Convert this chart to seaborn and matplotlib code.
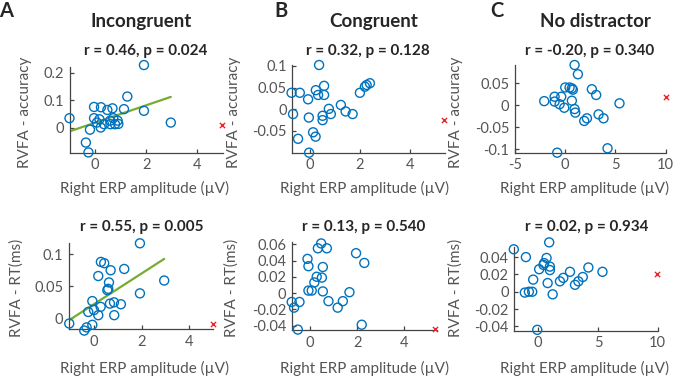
import numpy as np
import pandas as pd
import matplotlib
matplotlib.use('Agg')
import matplotlib.pyplot as plt
import seaborn as sns

# ---- data ----
# Panel A (Incongruent)
a_acc_x = [1.91, 1.26, -1.0, -0.04, 0.23, 0.48, 0.68, 1.13, 1.91, 2.96, -0.04, -0.2,
           -0.36, -0.26, 0.22, 0.35, 0.59, 0.71, 0.78, 0.91, 0.88, 0.6, 0.07, 0.17]
a_acc_y = [0.228, 0.113, 0.034, 0.075, 0.074, 0.064, 0.07, 0.067, 0.061, 0.018, 0.034, -0.008,
           -0.055, -0.091, 0.0, 0.012, 0.025, 0.034, 0.012, 0.013, 0.025, 0.012, 0.018, 0.03]
a_rt_x = [1.93, 0.29, 0.43, 0.70, 1.27, 0.18, 0.63, 0.56, 0.6, 2.95, 1.93, -0.07,
          -0.24, 0.0, 0.28, 0.18, 0.67, 0.84, 1.13, 0.85, -1.04, -0.41, -0.31, -0.07]
a_rt_y = [0.117, 0.088, 0.086, 0.075, 0.077, 0.066, 0.056, 0.044, 0.046, 0.059, 0.039, 0.027,
          0.010, 0.013, 0.018, 0.005, 0.023, 0.025, 0.022, 0.005, -0.008, -0.019, -0.014, -0.010]

# Panel B (Congruent)
b_acc_x = [0.37, -0.73, -0.4, -0.07, 0.24, 0.33, 0.57, 0.57, 2.0, 2.2, 2.4, 2.27, -0.67,
           -0.04, 0.51, 0.51, 0.76, 0.84, 1.24, 1.43, 1.71, 0.13, 0.23, -0.47, -0.03]
b_acc_y = [0.102, 0.038, 0.038, 0.023, 0.044, 0.033, 0.054, 0.033, 0.038, 0.052, 0.06, 0.056, -0.011,
           -0.019, -0.015, -0.025, 0.001, -0.011, 0.010, -0.005, -0.011, -0.053, -0.063, -0.068, -0.1]
b_rt_x = [0.47, 0.33, 0.71, 1.95, 2.3, -0.11, -0.07, 0.54, 0.28, 0.5, 0.18, -0.07,
          0.07, 0.54, 1.67, 0.78, 1.39, 1.17, -0.78, -0.68, -0.45, -0.52, 2.19]
b_rt_y = [0.061, 0.055, 0.055, 0.049, 0.037, 0.042, 0.033, 0.032, 0.020, 0.019, 0.013, 0.003,
          0.003, 0.002, 0.001, -0.010, -0.010, -0.018, -0.011, -0.018, -0.011, -0.045, -0.039]

# Panel C (No distractor)
c_acc_x = [0.93, 1.26, 0.0, 0.43, 0.66, 0.76, 2.65, 3.08, -2.09, -1.06, -1.06, -0.4,
           -0.56, -0.1, 0.66, 0.93, 1.0, 5.4, 1.89, 2.16, 3.32, 3.81, -0.8, 4.21]
c_acc_y = [0.091, 0.070, 0.040, 0.040, 0.038, 0.035, 0.036, 0.023, 0.009, 0.019, 0.008, 0.019,
           0.002, -0.006, 0.010, -0.009, -0.017, 0.004, -0.036, -0.030, -0.021, -0.030, -0.108, -0.098]
c_rt_x = [0.92, -2.04, -1.03, 0.7, 0.5, 0.44, 0.98, 0.98, 0.08, 2.66, 4.2, 5.38,
          -0.42, 0.79, 1.82, 2.1, 3.08, 3.36, 3.73, -1.12, -0.78, -0.5, 1.21, -0.08]
c_rt_y = [0.057, 0.049, 0.040, 0.039, 0.033, 0.031, 0.029, 0.025, 0.026, 0.023, 0.028, 0.023,
          0.014, 0.010, 0.012, 0.016, 0.008, 0.012, 0.017, -0.001, 0.0, 0.0, -0.003, -0.044]

# excluded outlier (red cross) per panel: (x, y)
outliers = {'a_acc': (4.95, 0.010), 'a_rt': (5.0, -0.008),
            'b_acc': (5.36, -0.025), 'b_rt': (5.3, -0.044),
            'c_acc': (10.0, 0.019), 'c_rt': (9.9, 0.021)}

titles = ['Incongruent', 'Congruent', 'No distractor']
letters = ['A', 'B', 'C']
stats_acc = ['r = 0.46, p = 0.024', 'r = 0.32, p = 0.128', 'r = -0.20, p = 0.340']
stats_rt = ['r = 0.55, p = 0.005', 'r = 0.13, p = 0.540', 'r = 0.02, p = 0.934']

sns.set_style('ticks')
plt.rcParams['font.family'] = ['Lato', 'DejaVu Sans']

W, H = 685, 379
fig = plt.figure(figsize=(W / 100, H / 100), dpi=100)

BLUE = '#0072BD'
GREEN = '#77AC30'
GREY = '#555555'


def px_axes(l, r, t, b):
    return fig.add_axes([l / W, 1 - b / H, (r - l) / W, (b - t) / H])


def ftext(x, y, s, **kw):
    fig.text(x / W, 1 - y / H, s, ha='center', va='center', **kw)


# name, data, box (l, r, t, b px), xlim, ylim, xticks, yticks, fit line
panels = [
    ('a_acc', a_acc_x, a_acc_y, (70, 223, 66.7, 152.7), (-0.98, 5.0), (-0.092, 0.222),
     [0, 2, 4], [0, 0.1, 0.2], True),
    ('a_rt', a_rt_x, a_rt_y, (69, 213, 243.3, 329.3), (-1.05, 5.0), (-0.017, 0.117),
     [0, 2, 4], [0, 0.05, 0.1], True),
    ('b_acc', b_acc_x, b_acc_y, (292.3, 445, 65, 152.7), (-0.7, 5.4), (-0.1, 0.102),
     [0, 2, 4], [-0.05, 0, 0.05, 0.1], False),
    ('b_rt', b_rt_x, b_rt_y, (291.7, 437.4, 242.3, 330), (-0.78, 5.4), (-0.0455, 0.0624),
     [0, 2, 4], [-0.04, -0.02, 0, 0.02, 0.04, 0.06], False),
    ('c_acc', c_acc_x, c_acc_y, (515, 665.7, 65, 152.7), (-5, 10), (-0.108, 0.091),
     [-5, 0, 5, 10], [-0.1, -0.05, 0, 0.05], False),
    ('c_rt', c_rt_x, c_rt_y, (514.3, 657.7, 246.7, 330.7), (-2, 10), (-0.045, 0.052),
     [0, 5, 10], [-0.04, -0.02, 0, 0.02, 0.04], False),
]

for name, xs, ys, box, xlim, ylim, xt, yt, fit in panels:
    ax = px_axes(*box)
    df = pd.DataFrame({'x': xs, 'y': ys})
    if fit:
        sns.regplot(data=df, x='x', y='y', scatter=False, ci=None, truncate=True,
                    color=GREEN, line_kws={'linewidth': 1.6}, ax=ax)
    sns.scatterplot(data=df, x='x', y='y', marker='o', s=42, facecolor='none',
                    edgecolor=BLUE, linewidth=1.0, clip_on=False, zorder=3, ax=ax)
    ox, oy = outliers[name]
    sns.scatterplot(x=[ox], y=[oy], marker='x', s=14, color='#e8262a', linewidth=1.0,
                    clip_on=False, zorder=3, ax=ax)
    ax.set_xlim(*xlim)
    ax.set_ylim(*ylim)
    ax.set_xticks(xt)
    ax.set_yticks(yt)
    ax.set_xticklabels([f'{v:g}' for v in xt])
    ax.set_yticklabels([f'{v:g}' for v in yt])
    ax.set_xlabel('')
    ax.set_ylabel('')
    ax.tick_params(direction='in', length=3, width=0.9, colors='#444444',
                   labelcolor=GREY, labelsize=10.5, pad=4)
    for sp in ['left', 'bottom']:
        ax.spines[sp].set_color('#444444')
        ax.spines[sp].set_linewidth(0.9)
    sns.despine(ax=ax)

# panel letters, titles, stats
for cx, s in zip([6.5, 281.5, 496.7], letters):
    ftext(cx, 11, s, fontsize=14.5, fontweight='bold')
for cx, s in zip([141.5, 374, 595], titles):
    ftext(cx, 21.5, s, fontsize=13.5, fontweight='bold')
for cx, s in zip([145.5, 367.5, 589.5], stats_acc):
    ftext(cx, 50.5, s, fontsize=11, fontweight='bold')
for cx, s in zip([141.7, 364, 586.3], stats_rt):
    ftext(cx, 227.5, s, fontsize=11, fontweight='bold')

# axis labels
for cx in [145, 365, 585]:
    ftext(cx, 188, 'Right ERP amplitude (\u00b5V)', fontsize=11, color=GREY)
    ftext(cx, 368, 'Right ERP amplitude (\u00b5V)', fontsize=11, color=GREY)
for cx in [25, 234, 456]:
    ftext(cx, 112, 'RVFA - accuracy', fontsize=11, color=GREY, rotation=90)
for cx in [17, 232, 456]:
    ftext(cx, 288, 'RVFA - RT(ms)', fontsize=11, color=GREY, rotation=90)

fig.savefig('out.png', dpi=100)
